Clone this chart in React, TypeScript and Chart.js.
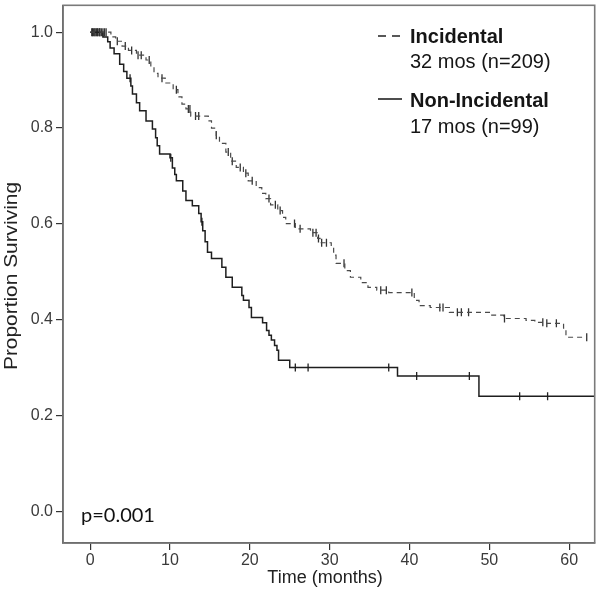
import React, { useEffect, useRef } from "react";
import { Chart, registerables } from "chart.js";

Chart.register(...registerables);

// ---- Data ----
const xTicks = [0, 10, 20, 30, 40, 50, 60];
const yTicks = [0, 0.2, 0.4, 0.6, 0.8, 1.0];

// Incidental (dashed) — event times (months) and survival after each event
const incTimes = [2.6, 3.2, 4.0, 4.8, 5.8, 7.0, 7.6, 8.0, 8.5, 9.4, 10.4, 11.0, 11.5, 12.0, 12.6, 14.8, 15.2, 15.8, 16.2, 17.0, 17.6, 18.3, 19.2, 19.8, 20.8, 21.5, 22.0, 22.6, 23.5, 24.1, 24.5, 25.7, 27.6, 28.5, 28.8, 30.2, 30.5, 30.8, 31.9, 32.6, 33.9, 34.8, 35.9, 37.4, 40.6, 41.2, 42.6, 45.0, 50.2, 51.8, 54.6, 55.7, 57.0, 59.3, 59.6];
const incSurv = [0.990, 0.981, 0.971, 0.962, 0.952, 0.942, 0.928, 0.914, 0.904, 0.894, 0.880, 0.865, 0.850, 0.840, 0.825, 0.815, 0.800, 0.785, 0.768, 0.750, 0.731, 0.718, 0.706, 0.690, 0.676, 0.664, 0.653, 0.640, 0.628, 0.614, 0.601, 0.590, 0.582, 0.570, 0.561, 0.551, 0.535, 0.518, 0.503, 0.489, 0.478, 0.468, 0.462, 0.457, 0.441, 0.430, 0.426, 0.416, 0.410, 0.403, 0.399, 0.395, 0.393, 0.383, 0.364];
const incEnd = 62.2;
const incCensor = [0.2, 0.4, 0.6, 0.8, 1.0, 1.2, 1.4, 1.6, 1.8, 2.0, 3.4, 4.4, 5.2, 6.0, 6.4, 7.4, 9.0, 10.8, 12.3, 12.5, 13.2, 13.6, 15.8, 17.3, 17.8, 18.8, 19.5, 20.3, 22.4, 23.2, 23.8, 25.6, 26.3, 27.9, 28.3, 28.6, 29.0, 29.6, 31.8, 36.4, 37.1, 40.3, 43.8, 44.2, 46.0, 46.5, 47.4, 51.9, 56.7, 57.2, 58.4, 62.2];

// Non-Incidental (solid)
const nonTimes = [1.6, 2.2, 2.5, 3.0, 3.7, 4.2, 4.6, 5.1, 5.3, 5.8, 6.2, 7.0, 7.8, 8.2, 8.4, 8.7, 10.0, 10.3, 10.6, 10.8, 11.6, 12.0, 12.8, 13.6, 13.9, 14.1, 14.4, 14.7, 15.2, 16.5, 17.0, 17.8, 19.0, 19.2, 19.9, 20.2, 21.6, 22.1, 22.4, 22.7, 23.1, 23.4, 23.6, 25.0, 38.5, 48.7];
const nonSurv = [0.990, 0.980, 0.967, 0.955, 0.933, 0.918, 0.904, 0.888, 0.871, 0.853, 0.836, 0.815, 0.798, 0.780, 0.763, 0.746, 0.738, 0.717, 0.703, 0.690, 0.669, 0.649, 0.638, 0.622, 0.605, 0.586, 0.563, 0.541, 0.528, 0.510, 0.489, 0.468, 0.451, 0.441, 0.426, 0.405, 0.394, 0.378, 0.368, 0.358, 0.347, 0.337, 0.316, 0.301, 0.283, 0.241];
const nonEnd = 63.2;
const nonCensor = [0.3, 0.6, 0.9, 1.2, 5.0, 10.1, 14.0, 25.7, 27.3, 37.4, 40.9, 47.5, 53.8, 57.3];

const legendLabels = ["Incidental", "32 mos (n=209)", "Non-Incidental", "17 mos (n=99)"];
const pValueText = "p=0.001";
const xTitle = "Time (months)";
const yTitle = "Proportion Surviving";

// ---- helpers ----
function stepData(times: number[], surv: number[], end: number) {
  const pts = [{ x: 0, y: 1 }];
  times.forEach((t, i) => pts.push({ x: t, y: surv[i] }));
  pts.push({ x: end, y: surv[surv.length - 1] });
  return pts;
}
function survAt(times: number[], surv: number[], t: number) {
  let s = 1;
  for (let i = 0; i < times.length; i++) if (times[i] <= t) s = surv[i];
  return s;
}
function censorData(c: number[], times: number[], surv: number[]) {
  return c.map((t) => ({ x: t, y: survAt(times, surv, t) }));
}

const SANS = '"Liberation Sans", Arial, sans-serif';

const overlayPlugin = {
  id: "overlay",
  afterDraw(chart: any) {
    const { ctx, chartArea } = chart;
    ctx.save();
    // plot frame
    ctx.strokeStyle = "#7a7a7a";
    ctx.lineWidth = 1.6;
    ctx.strokeRect(chartArea.left, chartArea.top, chartArea.right - chartArea.left, chartArea.bottom - chartArea.top);

    // legend
    ctx.fillStyle = "#151515";
    ctx.strokeStyle = "#222";
    ctx.lineWidth = 1.6;
    ctx.setLineDash([8, 6]);
    ctx.beginPath();
    ctx.moveTo(378, 36);
    ctx.lineTo(402, 36);
    ctx.stroke();
    ctx.setLineDash([]);
    ctx.beginPath();
    ctx.moveTo(378, 99);
    ctx.lineTo(402, 99);
    ctx.stroke();
    ctx.textBaseline = "middle";
    ctx.textAlign = "left";
    ctx.font = "bold 20px " + SANS;
    ctx.fillText(legendLabels[0], 410, 37);
    ctx.fillText(legendLabels[2], 410, 101);
    ctx.font = "20px " + SANS;
    ctx.fillText(legendLabels[1], 410, 62);
    ctx.fillText(legendLabels[3], 410, 127);

    // p-value
    ctx.font = "20px Lato, 'Open Sans', sans-serif";
    ctx.fillStyle = "#111";
    ctx.fillText(pValueText, 81, 516);

    // axis titles
    ctx.fillStyle = "#222";
    ctx.font = "18px " + SANS;
    ctx.textAlign = "center";
    ctx.fillText(xTitle, 325, 578);
    ctx.save();
    ctx.translate(12, 276);
    ctx.rotate(-Math.PI / 2);
    ctx.scale(1.16, 1);
    ctx.fillText(yTitle, 0, 0);
    ctx.restore();
    ctx.restore();
  },
};

export default function App() {
  const ref = useRef<HTMLCanvasElement>(null);
  useEffect(() => {
    if (!ref.current) return;
    const tickFont = { family: SANS, size: 16 };
    const chart = new Chart(ref.current, {
      type: "line",
      data: {
        datasets: [
          {
            label: "Incidental",
            data: stepData(incTimes, incSurv, incEnd),
            stepped: true,
            borderColor: "#4a4a4a",
            borderWidth: 1.2,
            borderDash: [5, 4],
            pointRadius: 0,
            fill: false,
          },
          {
            label: "Non-Incidental",
            data: stepData(nonTimes, nonSurv, nonEnd),
            stepped: true,
            borderColor: "#1e1e1e",
            borderWidth: 1.5,
            pointRadius: 0,
            fill: false,
          },
          {
            type: "scatter",
            label: "inc-censor",
            data: censorData(incCensor, incTimes, incSurv),
            pointStyle: "line",
            rotation: 90,
            pointRadius: 4,
            borderColor: "#333",
            borderWidth: 1.3,
            showLine: false,
          } as any,
          {
            type: "scatter",
            label: "non-censor",
            data: censorData(nonCensor, nonTimes, nonSurv),
            pointStyle: "line",
            rotation: 90,
            pointRadius: 4,
            borderColor: "#222",
            borderWidth: 1.3,
            showLine: false,
          } as any,
        ],
      },
      options: {
        animation: false,
        responsive: false,
        layout: { padding: { top: 3, right: 3, left: 0, bottom: 0 } },
        plugins: { legend: { display: false }, tooltip: { enabled: false } },
        scales: {
          x: {
            type: "linear",
            min: -3.4,
            max: 63.2,
            afterBuildTicks: (s: any) => {
              s.ticks = xTicks.map((v) => ({ value: v }));
            },
            afterFit: (s: any) => {
              s.height = 48;
              s.paddingLeft = 0;
              s.paddingRight = 0;
            },
            ticks: { font: tickFont, color: "#3a3a3a", padding: 1, callback: (v: any) => String(v) },
            grid: { drawOnChartArea: false, tickLength: 7, color: "#333", lineWidth: 1.2 },
            border: { display: true, color: "#444", width: 1.6 },
          },
          y: {
            type: "linear",
            min: -0.065,
            max: 1.056,
            afterBuildTicks: (s: any) => {
              s.ticks = yTicks.map((v) => ({ value: v }));
            },
            afterFit: (s: any) => {
              s.width = 63;
              s.paddingTop = 0;
              s.paddingBottom = 0;
            },
            ticks: { font: tickFont, color: "#3a3a3a", padding: 3, callback: (v: any) => Number(v).toFixed(1) },
            grid: { drawOnChartArea: false, tickLength: 7, color: "#333", lineWidth: 1.2 },
            border: { display: true, color: "#444", width: 1.6 },
          },
        },
      },
      plugins: [overlayPlugin],
    } as any);
    return () => chart.destroy();
  }, []);
  return (
    <div style={{ position: "fixed", left: 0, top: 0, width: 600, height: 591, background: "#fff" }}>
      <canvas ref={ref} width={600} height={591} style={{ display: "block", width: 600, height: 591 }} />
    </div>
  );
}
